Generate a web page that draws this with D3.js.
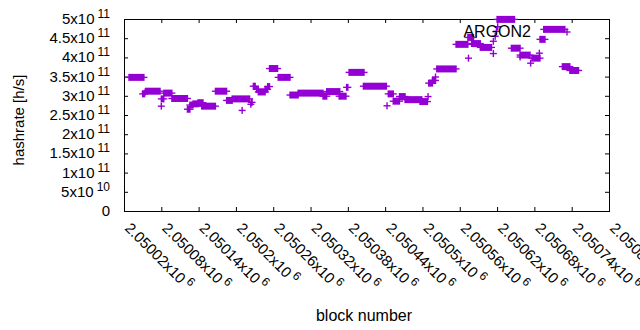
<!DOCTYPE html>
<html>
<head>
<meta charset="utf-8">
<script src="https://cdn.jsdelivr.net/npm/d3@7"></script>
<style>
  body { margin: 0; background: #fff; }
  text { font-family: "Liberation Sans", Arial, sans-serif; fill: #000; }
</style>
</head>
<body>
<svg id="chart" width="640" height="330"></svg>
<script>
const seriesName = 'ARGON2'
const xTitle = 'block number'
const yTitle = 'hashrate [h/s]'

// x ticks (block numbers) and their labels, shown as "<base>x10^6"
const xTicks = [2050020, 2050080, 2050140, 2050200, 2050260, 2050320, 2050380,
  2050440, 2050500, 2050560, 2050620, 2050680, 2050740, 2050800]
const xTickBase = ['2.05002x10', '2.05008x10', '2.05014x10', '2.0502x10', '2.05026x10',
  '2.05032x10', '2.05038x10', '2.05044x10', '2.0505x10', '2.05056x10', '2.05062x10',
  '2.05068x10', '2.05074x10', '2.0508x10']
const xTickExp = '6'

// y ticks (h/s)
const yTicks = [0, 5e10, 1e11, 1.5e11, 2e11, 2.5e11, 3e11, 3.5e11, 4e11, 4.5e11, 5e11]
const yTickBase = ['0', '5x10', '1x10', '1.5x10', '2x10', '2.5x10', '3x10', '3.5x10', '4x10', '4.5x10', '5x10']
const yTickExp = ['', '10', '11', '11', '11', '11', '11', '11', '11', '11', '11']

// runs of consecutive blocks sharing a hashrate (start block, end block, h/s)
const runStart = [2050028, 2050050, 2050054, 2050055, 2050080, 2050080, 2050084, 2050097,
  2050122, 2050126, 2050131, 2050139, 2050145, 2050167, 2050185, 2050194, 2050210, 2050224,
  2050225, 2050228, 2050233, 2050236, 2050247, 2050251, 2050254, 2050268, 2050287, 2050300,
  2050340, 2050346, 2050366, 2050378, 2050382, 2050405, 2050443, 2050445, 2050453, 2050463,
  2050472, 2050496, 2050509, 2050510, 2050516, 2050521, 2050523, 2050554, 2050574, 2050573,
  2050579, 2050593, 2050614, 2050614, 2050617, 2050619, 2050621, 2050620, 2050643, 2050657,
  2050657, 2050674, 2050676, 2050688, 2050689, 2050695, 2050725, 2050737]
const runEnd = [2050052, 2050053, 2050054, 2050078, 2050080, 2050084, 2050097, 2050122,
  2050126, 2050131, 2050139, 2050147, 2050167, 2050185, 2050194, 2050222, 2050210, 2050224,
  2050226, 2050231, 2050236, 2050247, 2050251, 2050254, 2050267, 2050287, 2050300, 2050340,
  2050346, 2050367, 2050377, 2050380, 2050406, 2050442, 2050443, 2050453, 2050463, 2050472,
  2050499, 2050508, 2050509, 2050516, 2050521, 2050521, 2050554, 2050573, 2050574, 2050582,
  2050593, 2050611, 2050614, 2050614, 2050617, 2050619, 2050621, 2050648, 2050657, 2050657,
  2050673, 2050674, 2050689, 2050688, 2050697, 2050729, 2050737, 2050751]
const runHashrate = [3.48e11, 3.05e11, 3.10e11, 3.12e11, 2.73e11, 2.92e11, 3.07e11, 2.93e11,
  2.65e11, 2.76e11, 2.79e11, 2.82e11, 2.73e11, 3.12e11, 2.88e11, 2.92e11, 2.62e11, 2.78e11,
  2.83e11, 3.25e11, 3.17e11, 3.10e11, 3.17e11, 3.24e11, 3.71e11, 3.48e11, 3.02e11, 3.07e11,
  2.99e11, 3.11e11, 2.99e11, 3.22e11, 3.61e11, 3.25e11, 2.74e11, 3.05e11, 2.86e11, 2.98e11,
  2.90e11, 2.85e11, 2.98e11, 3.33e11, 3.40e11, 3.49e11, 3.70e11, 4.34e11, 3.98e11, 4.52e11,
  4.36e11, 4.26e11, 4.42e11, 4.10e11, 4.55e11, 4.68e11, 4.80e11, 4.99e11, 4.24e11, 4.01e11,
  4.06e11, 3.85e11, 3.98e11, 4.11e11, 4.47e11, 4.73e11, 3.76e11, 3.66e11]

const color = '#9400d3'
const margin = { left: 124, right: 31, top: 19, bottom: 119 }
const W = 640, H = 330
const arm = 3.5

const svg = d3.select('#chart')

const x = d3.scaleLinear().domain([2050020, 2050800]).range([margin.left, W - margin.right])
const y = d3.scaleLinear().domain([0, 5e11]).range([H - margin.bottom, margin.top])

/* ticks (inward, mirrored) */
const noLabel = () => ''
svg.append('g').attr('transform', `translate(0,${H - margin.bottom})`)
  .call(d3.axisBottom(x).tickValues(xTicks).tickSizeInner(-4).tickSizeOuter(0).tickFormat(noLabel))
svg.append('g').attr('transform', `translate(0,${margin.top})`)
  .call(d3.axisTop(x).tickValues(xTicks).tickSizeInner(-4).tickSizeOuter(0).tickFormat(noLabel))
svg.append('g').attr('transform', `translate(${margin.left},0)`)
  .call(d3.axisLeft(y).tickValues(yTicks).tickSizeInner(-4).tickSizeOuter(0).tickFormat(noLabel))
svg.append('g').attr('transform', `translate(${W - margin.right},0)`)
  .call(d3.axisRight(y).tickValues(yTicks).tickSizeInner(-4).tickSizeOuter(0).tickFormat(noLabel))
svg.selectAll('.domain').remove()
svg.selectAll('.tick line').attr('stroke', '#000')

/* border */
svg.append('rect')
  .attr('x', margin.left + 0.5).attr('y', margin.top + 0.5)
  .attr('width', x.range()[1] - x.range()[0]).attr('height', y.range()[0] - y.range()[1])
  .attr('fill', 'none').attr('stroke', '#000').attr('stroke-width', 1)

/* y tick labels */
const yLab = svg.append('g').selectAll('text')
  .data(yTicks).join('text')
  .attr('x', 110).attr('y', d => y(d) + 5)
  .attr('text-anchor', 'end')
  .style('font-size', '15px')
yLab.append('tspan').text((d, i) => yTickBase[i])
yLab.append('tspan').attr('dx', 3).attr('dy', -6).style('font-size', '12px').text((d, i) => yTickExp[i])

/* x tick labels, rotated */
const xLab = svg.append('g').selectAll('text')
  .data(xTicks).join('text')
  .attr('transform', d => `translate(${x(d)},229) rotate(45)`)
  .style('font-size', '15px')
xLab.append('tspan').text((d, i) => xTickBase[i])
xLab.append('tspan').attr('dx', 3).attr('dy', -6).style('font-size', '12px').text(xTickExp)

/* axis titles */
svg.append('text').attr('x', 364).attr('y', 321).attr('text-anchor', 'middle')
  .style('font-size', '16px').text(xTitle)
svg.append('text').attr('transform', 'translate(24,120) rotate(-90)').attr('text-anchor', 'middle')
  .style('font-size', '15px').text(yTitle)

/* data: runs of '+' points -> vertical arms merge into a band, horizontal arm spans the run */
const idx = d3.range(runStart.length)
const pts = svg.append('g')
pts.selectAll('rect').data(idx).join('rect')
  .attr('x', i => x(runStart[i]) - 0.7)
  .attr('width', i => x(runEnd[i]) - x(runStart[i]) + 1.4)
  .attr('y', i => y(runHashrate[i]) - arm)
  .attr('height', arm * 2)
  .attr('fill', color)
pts.selectAll('line').data(idx).join('line')
  .attr('x1', i => x(runStart[i]) - arm)
  .attr('x2', i => x(runEnd[i]) + arm)
  .attr('y1', i => y(runHashrate[i]))
  .attr('y2', i => y(runHashrate[i]))
  .attr('stroke', color).attr('stroke-width', 1.4)

/* key */
svg.append('text').attr('x', 531).attr('y', 37).attr('text-anchor', 'end')
  .style('font-size', '16px').text(seriesName)
const key = svg.append('g').attr('transform', 'translate(567,32)')
key.append('line').attr('x1', -arm).attr('x2', arm).attr('stroke', color).attr('stroke-width', 1.4)
key.append('line').attr('y1', -arm).attr('y2', arm).attr('stroke', color).attr('stroke-width', 1.4)
</script>
</body>
</html>
